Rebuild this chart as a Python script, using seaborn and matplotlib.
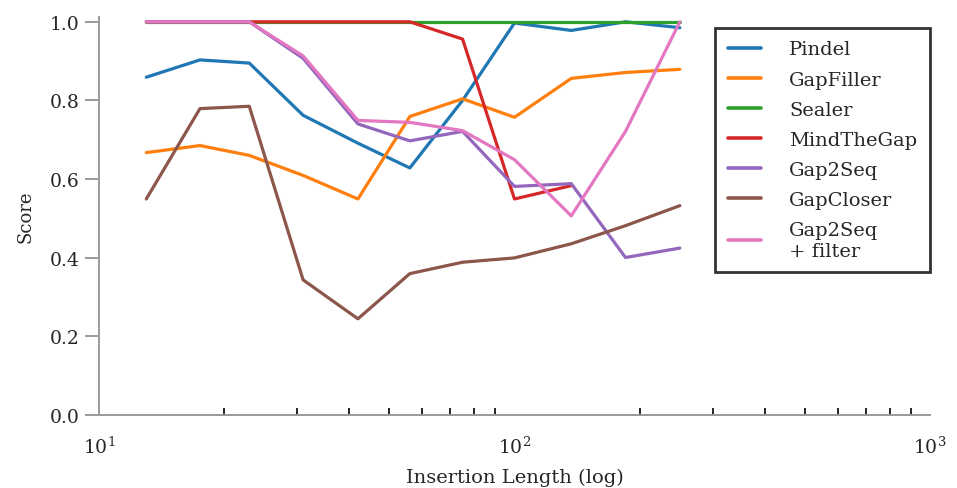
import numpy as np
import pandas as pd
import matplotlib
matplotlib.use("Agg")
import matplotlib.pyplot as plt
import seaborn as sns

# insertion lengths (x, log scale)
lengths = [13, 17.5, 23, 31, 42, 56, 75, 100, 137, 185, 250]

pindel = [0.859, 0.903, 0.895, 0.762, 0.691, 0.628, 0.80, 0.997, 0.978, 1.0, 0.985]
gapfiller = [0.667, 0.685, 0.66, 0.609, 0.549, 0.759, 0.804, 0.757, 0.856, 0.871, 0.879]
sealer = [1.0, 1.0, 1.0, 1.0, 1.0, 1.0, 1.0, 1.0, 1.0, 1.0, 1.0]
mindthegap = [1.0, 1.0, 1.0, 1.0, 1.0, 1.0, 0.956, 0.549, 0.583, np.nan, np.nan]
gap2seq = [1.0, 1.0, 1.0, 0.907, 0.74, 0.697, 0.721, 0.581, 0.588, 0.40, 0.424]
gapcloser = [0.549, 0.779, 0.785, 0.343, 0.244, 0.359, 0.388, 0.399, 0.435, 0.481, 0.532]
gap2seq_filter = [1.0, 1.0, 1.0, 0.913, 0.749, 0.744, 0.723, 0.649, 0.506, 0.721, 1.0]

tools = ["Pindel", "GapFiller", "Sealer", "MindTheGap", "Gap2Seq", "GapCloser", "Gap2Seq\n+ filter"]
series = [pindel, gapfiller, sealer, mindthegap, gap2seq, gapcloser, gap2seq_filter]

rows = []
for name, vals in zip(tools, series):
    for x, v in zip(lengths, vals):
        rows.append({"length": x, "score": v, "tool": name})
df = pd.DataFrame(rows).dropna()

sns.set_style("white")
plt.rcParams["font.family"] = ["DejaVu Serif"]
plt.rcParams["mathtext.fontset"] = "dejavuserif"

fig = plt.figure(figsize=(9.57, 4.89), dpi=100)
ax = fig.add_axes([0.1034, 0.150, 0.8684, 0.813])

sns.lineplot(data=df, x="length", y="score", hue="tool", hue_order=tools,
             palette="tab10", linewidth=2.3, ax=ax, sort=False)

ax.set_xscale("log")
ax.set_xlim(10, 1000)
ax.set_ylim(0, 1.012)
ax.set_yticks([0.0, 0.2, 0.4, 0.6, 0.8, 1.0])
ax.set_yticklabels(["0.0", "0.2", "0.4", "0.6", "0.8", "1.0"])

for s in ["top", "right"]:
    ax.spines[s].set_visible(False)
for s in ["left", "bottom"]:
    ax.spines[s].set_color("#9a9a9a")
    ax.spines[s].set_linewidth(1.4)

ax.tick_params(axis="x", which="major", direction="out", length=10, width=1.4,
               color="#9a9a9a", labelsize=13.5, pad=5)
ax.tick_params(axis="x", which="minor", direction="in", length=5, width=1.2,
               color="black", bottom=True)
ax.tick_params(axis="y", which="major", direction="out", length=10, width=1.4,
               color="#9a9a9a", labelsize=13.5, pad=4, left=True)

ax.set_xlabel("Insertion Length (log)", fontsize=14, labelpad=8)
ax.set_ylabel("Score", fontsize=13, labelpad=11)

leg = ax.legend(loc="upper right", bbox_to_anchor=(1.0, 0.973), borderaxespad=0,
                fontsize=14, frameon=True, fancybox=False, handlelength=1.7,
                labelspacing=0.62, borderpad=0.65, handletextpad=1.45)
leg.get_frame().set_edgecolor("black")
leg.get_frame().set_linewidth(2)
for line in leg.get_lines():
    line.set_linewidth(2.6)

fig.savefig("out.png", dpi=100)
